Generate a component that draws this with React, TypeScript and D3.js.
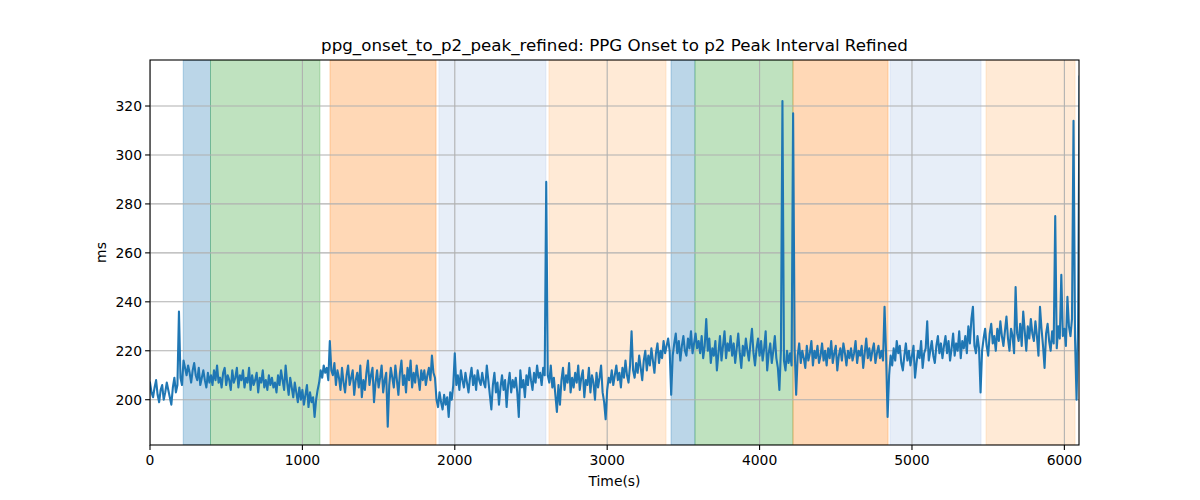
import React from "react";
import * as d3 from "d3";

const TITLE = "ppg_onset_to_p2_peak_refined: PPG Onset to p2 Peak Interval Refined";
const X_LABEL = "Time(s)";
const Y_LABEL = "ms";

const X_TICKS = [0, 1000, 2000, 3000, 4000, 5000, 6000];
const Y_TICKS = [200, 220, 240, 260, 280, 300, 320];

// shaded phases
const SPAN_STARTS = [218, 397, 1181, 1896, 2618, 3419, 3576, 4219, 4856, 5486];
const SPAN_ENDS = [397, 1115, 1877, 2598, 3386, 3576, 4219, 4843, 5453, 6070];
const SPAN_COLORS = ["#1f77b4", "#2ca02c", "#ff7f0e", "#aec7e8", "#ffbb78", "#1f77b4", "#2ca02c", "#ff7f0e", "#aec7e8", "#ffbb78"];

// samples every 10 s
const TIME_STEP = 10;
const VALUES = [
  207, 203, 201, 205, 208, 202, 199, 204, 206, 200, 203, 207, 204, 201, 198, 205, 209, 203, 206, 236,
  209, 206, 216, 213, 210, 214, 211, 207, 212, 215, 210, 208, 213, 206, 209, 212, 208, 205, 211, 207,
  210, 206, 212, 208, 214, 207, 209, 205, 211, 213, 206, 210, 208, 204, 212, 207, 209, 213, 205, 210,
  208, 212, 205, 209, 207, 213, 204, 210, 206, 208, 211, 203, 209, 207, 212, 205, 208, 204, 210, 206,
  209, 205, 207, 203, 210, 206, 212, 208, 204, 214, 207, 202, 209, 205, 201, 207, 203, 199, 205, 200,
  204, 198, 202, 206, 197, 203, 199, 201, 193, 200, 204, 207, 212, 209, 214, 211, 213, 208, 224, 212,
  210, 215, 206, 212, 209, 204, 213, 207, 203, 210, 214, 206, 209, 212, 202, 208, 211, 205, 214, 201,
  208, 204, 211, 216, 206, 210, 213, 199, 207, 212, 205, 209, 214, 203, 208, 211, 189, 206, 213, 209,
  205, 214, 208, 202, 211, 216, 206, 210, 203, 213, 208, 216, 205, 211, 207, 214, 209, 204, 212, 208,
  212, 206, 210, 213, 208, 218, 211, 209, 200, 197, 203, 199, 196, 202, 198, 201, 193, 203, 200, 206,
  219, 206, 210, 204, 212, 208, 205, 211, 207, 203, 209, 213, 206, 210, 204, 212, 208, 206, 211, 207,
  205, 214, 208, 202, 196, 206, 211, 203, 207, 198, 205, 210, 204, 208, 197, 206, 211, 203, 208, 205,
  209, 203, 193, 212, 205, 208, 201, 210, 206, 213, 208, 204, 211, 207, 214, 209, 211, 206, 213, 210,
  289, 210, 207, 214, 205, 209, 202, 195, 206, 198, 208, 213, 204, 210, 207, 215, 203, 209, 205, 211,
  207, 214, 204, 209, 212, 201, 208, 206, 213, 203, 210, 207, 200, 211, 205, 209, 214, 203, 199, 192,
  204, 209, 207, 212, 206, 210, 214, 208, 211, 205, 213, 209, 216, 210, 207, 214, 228, 212, 209, 215,
  211, 218, 213, 208, 216, 220, 212, 218, 214, 221, 216, 211, 219, 223, 215, 220, 217, 224, 219, 222,
  225, 220, 202, 218, 223, 227, 219, 224, 216, 222, 226, 220, 218, 225, 221, 228, 219, 223, 227, 221,
  224, 219, 226, 217, 222, 233, 220, 225, 215, 221, 218, 224, 212, 219, 226, 216, 222, 228, 217, 223,
  220, 226, 218, 223, 215, 221, 227, 219, 213, 222, 218, 225, 220, 216, 223, 229, 219, 214, 221, 225,
  218, 224, 216, 221, 228, 212, 219, 223, 215, 220, 226, 217, 213, 204, 220, 322, 216, 212, 220, 215,
  219, 214, 317, 221, 202, 218, 223, 215, 220, 217, 213, 222, 216, 219, 224, 214, 220, 217, 222, 215,
  218, 223, 216, 220, 214, 221, 217, 224, 215, 219, 222, 212, 218, 221, 216, 223, 219, 214, 220, 217,
  221, 216, 219, 224, 215, 220, 218, 222, 213, 219, 225, 217, 221, 216, 220, 223, 215, 219, 222, 217,
  220, 216, 238, 219, 193, 210, 218, 214, 221, 216, 224, 219, 222, 215, 212, 218, 223, 216, 220, 214,
  218, 222, 209, 215, 220, 217, 224, 213, 219, 221, 232, 216, 220, 224, 218, 215, 222, 226, 219, 223,
  217, 222, 226, 219, 224, 216, 221, 227, 218, 223, 220, 228, 217, 224, 221, 226, 219, 230, 223, 233,
  238, 222, 219, 226, 221, 203, 220, 225, 229, 222, 218, 227, 231, 223, 226, 220, 229, 224, 232, 226,
  222, 228, 234, 225, 220, 229, 226, 219, 246, 227, 224, 231, 222, 236, 228, 220, 230, 225, 233, 227,
  224, 232, 226, 218, 238, 229, 222, 213, 227, 231, 224, 220, 228, 223, 275, 221, 230, 225, 251, 226,
  229, 222, 242, 230, 226, 233, 314, 225, 200, 231, 332,
];

const W = 1200;
const H = 500;
const M = { left: 150, right: 1079, top: 60, bottom: 445 };

export default function App() {
  const x = d3.scaleLinear().domain([0, 6096]).range([M.left, M.right]);
  const y = d3.scaleLinear().domain([181.5, 338.8]).range([M.bottom, M.top]);

  const pts: [number, number][] = VALUES.map((v, i) => [i * TIME_STEP, v]);
  const line = d3
    .line<[number, number]>()
    .x((d) => x(d[0]))
    .y((d) => y(d[1]));

  const font = "DejaVu Sans, sans-serif";

  return (
    <svg
      width={W}
      height={H}
      style={{ position: "absolute", left: 0, top: 0, background: "#fff" }}
      fontFamily={font}
    >
      <defs>
        <clipPath id="plotclip">
          <rect x={M.left} y={M.top} width={M.right - M.left} height={M.bottom - M.top} />
        </clipPath>
      </defs>
      <rect x={0} y={0} width={W} height={H} fill="#fff" />
      <g clipPath="url(#plotclip)">
        {SPAN_STARTS.map((s, i) => (
          <rect
            key={i}
            x={x(s)}
            y={M.top}
            width={x(SPAN_ENDS[i]) - x(s)}
            height={M.bottom - M.top}
            fill={SPAN_COLORS[i]}
            fillOpacity={0.3}
            stroke={SPAN_COLORS[i]}
            strokeOpacity={0.3}
            strokeWidth={1}
          />
        ))}
        {X_TICKS.map((t) => (
          <line key={"gx" + t} x1={x(t)} x2={x(t)} y1={M.top} y2={M.bottom} stroke="#b0b0b0" strokeWidth={1.1} />
        ))}
        {Y_TICKS.map((t) => (
          <line key={"gy" + t} x1={M.left} x2={M.right} y1={y(t)} y2={y(t)} stroke="#b0b0b0" strokeWidth={1.1} />
        ))}
        <path d={line(pts) || ""} fill="none" stroke="#1f77b4" strokeWidth={2.1} strokeLinejoin="round" strokeLinecap="square" />
      </g>
      <rect
        x={M.left}
        y={M.top}
        width={M.right - M.left}
        height={M.bottom - M.top}
        fill="none"
        stroke="#000"
        strokeWidth={1.1}
      />
      {X_TICKS.map((t) => (
        <g key={"tx" + t}>
          <line x1={x(t)} x2={x(t)} y1={M.bottom} y2={M.bottom + 4.9} stroke="#000" strokeWidth={1.1} />
          <text x={x(t)} y={M.bottom + 20} textAnchor="middle" fontSize={13.9} fill="#000">
            {t}
          </text>
        </g>
      ))}
      {Y_TICKS.map((t) => (
        <g key={"ty" + t}>
          <line x1={M.left - 4.9} x2={M.left} y1={y(t)} y2={y(t)} stroke="#000" strokeWidth={1.1} />
          <text x={M.left - 8} y={y(t)} dy="0.35em" textAnchor="end" fontSize={13.9} fill="#000">
            {t}
          </text>
        </g>
      ))}
      <text x={(M.left + M.right) / 2} y={51} textAnchor="middle" fontSize={16.7} fill="#000">
        {TITLE}
      </text>
      <text x={(M.left + M.right) / 2} y={486} textAnchor="middle" fontSize={13.9} fill="#000">
        {X_LABEL}
      </text>
      <text
        transform={`translate(106, ${(M.top + M.bottom) / 2}) rotate(-90)`}
        textAnchor="middle"
        fontSize={13.9}
        fill="#000"
      >
        {Y_LABEL}
      </text>
    </svg>
  );
}
